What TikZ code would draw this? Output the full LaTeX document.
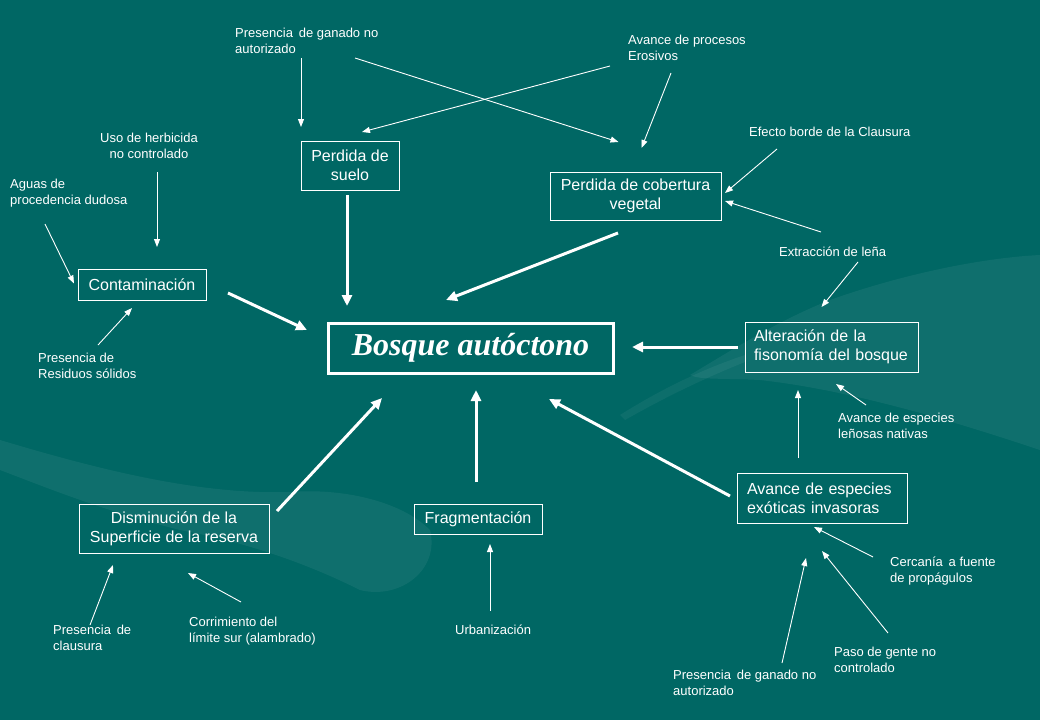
\documentclass[tikz,border=0pt]{standalone}
\usepackage{fontspec}
\setmainfont{Liberation Sans}
\newfontfamily\titulofont{Liberation Serif}
\usetikzlibrary{arrows.meta}
\definecolor{fondo}{RGB}{0,103,100}
\tikzset{
	caja/.style={draw=white, text=white, line width=0.9pt, inner sep=0pt, outer sep=0pt, align=center, font=\fontsize{16}{19}\selectfont},
	cajaizq/.style={caja, align=left},
	etiqueta/.style={text=white, inner sep=0pt, anchor=north west, align=left, font=\fontsize{13}{16}\selectfont},
	fina/.style={draw=white, line width=0.9pt, -{Triangle[length=8pt,width=6pt]}},
	gruesa/.style={draw=white, line width=3pt, -{Triangle[length=11pt,width=10pt]}}
}

\begin{document}
\begin{tikzpicture}[x=1pt, y=-1pt]
	\fill[fondo] (0,0) rectangle (1040,720);
	\useasboundingbox (0,0) rectangle (1040,720);
	% manos del fondo
	\fill[white, opacity=0.06] (0,440) .. controls (100,470) and (200,495) .. (290,492) .. controls (340,488) and (400,500) .. (430,530) .. controls (440,570) and (400,600) .. (360,590) .. controls (320,570) and (260,545) .. (180,530) .. controls (100,510) and (40,485) .. (0,470) -- cycle;
	\fill[white, opacity=0.06] (690,375) .. controls (740,345) and (780,320) .. (830,300) .. controls (900,275) and (980,258) .. (1040,255) -- (1040,450) .. controls (950,420) and (850,390) .. (760,380) .. controls (720,378) and (700,380) .. (690,375) -- cycle;
	\fill[white, opacity=0.05] (620,415) .. controls (660,390) and (700,370) .. (745,355) -- (745,362) .. controls (700,380) and (660,400) .. (625,420) -- cycle;

	% nodo central
	\node[caja, line width=3pt, minimum width=285pt, minimum height=50pt, font=\fontsize{32}{36}\titulofont\bfseries\itshape] (bosque) at (470.5,348) {Bosque autóctono};

	% causas principales
	\node[caja, minimum width=98pt, minimum height=49pt] (suelo) at (350,165.5) {Perdida de\\suelo};
	\node[caja, minimum width=128pt, minimum height=31pt] (contam) at (142,284.5) {Contaminación};
	\node[caja, minimum width=171pt, minimum height=48pt] (cobertura) at (635.5,196) {Perdida de cobertura\\vegetal};
	\node[cajaizq, text width=155pt, inner xsep=9pt, minimum height=50pt] (alteracion) at (831.5,347) {Alteración de la\\fisonomía del bosque};
	\node[cajaizq, text width=150pt, inner xsep=10pt, minimum height=50pt] (exoticas) at (822,498) {Avance de especies\\exóticas invasoras};
	\node[caja, minimum width=128pt, minimum height=30pt] (fragm) at (478,519) {Fragmentación};
	\node[caja, minimum width=190pt, minimum height=49pt] (dismin) at (174,528.5) {Disminución de la\\Superficie de la reserva};

	% factores
	\node[etiqueta] (ganadoA) at (235,28) {Presencia\, de ganado no\\autorizado};
	\node[etiqueta] (procesos) at (628,35) {Avance de procesos\\Erosivos};
	\node[etiqueta, anchor=north, align=center] (herbicida) at (149,133) {Uso de herbicida\\no controlado};
	\node[etiqueta] (aguas) at (10,179) {Aguas de\\procedencia dudosa};
	\node[etiqueta] (residuos) at (38,353) {Presencia de\\Residuos sólidos};
	\node[etiqueta] (efecto) at (749,127) {Efecto borde de la Clausura};
	\node[etiqueta] (extraccion) at (779,247) {Extracción de leña};
	\node[etiqueta] (lenosas) at (838,413) {Avance de especies\\leñosas nativas};
	\node[etiqueta] (cercania) at (890,557) {Cercanía\, a fuente\\de propágulos};
	\node[etiqueta] (paso) at (834,647) {Paso de gente no\\controlado};
	\node[etiqueta] (ganadoB) at (673,670) {Presencia\, de ganado no\\autorizado};
	\node[etiqueta] (urbanizacion) at (455,625) {Urbanización};
	\node[etiqueta] (corrimiento) at (189,617) {Corrimiento del\\límite sur (alambrado)};
	\node[etiqueta] (clausura) at (53,625) {Presencia\, de\\clausura};

	% flechas finas
	\draw[fina] ([shift={(66,30)}]ganadoA.north west) -- ([shift={(0,-14)}]suelo.north west);
	\draw[fina] ([shift={(120,30)}]ganadoA.north west) -- ([shift={(-17,-30)}]cobertura.north);
	\draw[fina] ([shift={(-18,31)}]procesos.north west) -- ([shift={(12,-9)}]suelo.north);
	\draw[fina] ([shift={(43,38)}]procesos.north west) -- ([shift={(6,-24)}]cobertura.north);
	\draw[fina] ([shift={(28,22)}]efecto.north west) -- ([shift={(4,-3)}]cobertura.east);
	\draw[fina] ([shift={(42,-15)}]extraccion.north west) -- ([shift={(4,5)}]cobertura.east);
	\draw[fina] ([shift={(79,15)}]extraccion.north west) -- ([shift={(-10,-15)}]alteracion.north);
	\draw[fina] ([shift={(8,39)}]herbicida.north) -- ([shift={(15,-22)}]contam.north);
	\draw[fina] ([shift={(35,45)}]aguas.north west) -- ([shift={(-4,-1)}]contam.west);
	\draw[fina] ([shift={(60,-8)}]residuos.north west) -- ([shift={(-10,8)}]contam.south);
	\draw[fina] ([shift={(28,-8)}]lenosas.north west) -- ([shift={(4.5,12)}]alteracion.south);
	\draw[fina] ([shift={(-24,-15)}]exoticas.north) -- ([shift={(-33.5,18)}]alteracion.south);
	\draw[fina] ([shift={(-17,0)}]cercania.north west) -- ([shift={(-8,4)}]exoticas.south);
	\draw[fina] ([shift={(54,-14)}]paso.north west) -- ([shift={(0,28)}]exoticas.south);
	\draw[fina] ([shift={(109,-7)}]ganadoB.north west) -- ([shift={(-16,35)}]exoticas.south);
	\draw[fina] ([shift={(35,-14)}]urbanizacion.north west) -- ([shift={(12,10)}]fragm.south);
	\draw[fina] ([shift={(52,-15)}]corrimiento.north west) -- ([shift={(14,20)}]dismin.south);
	\draw[fina] ([shift={(37,0)}]clausura.north west) -- ([shift={(-61,12)}]dismin.south);

	% flechas gruesas hacia el bosque
	\draw[gruesa] ([shift={(-3,5)}]suelo.south) -- ([shift={(19,-17)}]bosque.north west);
	\draw[gruesa] ([shift={(22,8.5)}]contam.east) -- ([shift={(-21,7)}]bosque.north west);
	\draw[gruesa] ([shift={(-17.5,13)}]cobertura.south) -- ([shift={(-24.5,-23)}]bosque.north);
	\draw[gruesa] ([shift={(-7,0)}]alteracion.west) -- ([shift={(19,-1)}]bosque.east);
	\draw[gruesa] ([shift={(-7,-2)}]exoticas.west) -- ([shift={(-64,26)}]bosque.south east);
	\draw[gruesa] ([shift={(-2,-22)}]fragm.north) -- ([shift={(5.5,17)}]bosque.south);
	\draw[gruesa] ([shift={(8,7)}]dismin.north east) -- ([shift={(54,25)}]bosque.south west);
\end{tikzpicture}
\end{document}
